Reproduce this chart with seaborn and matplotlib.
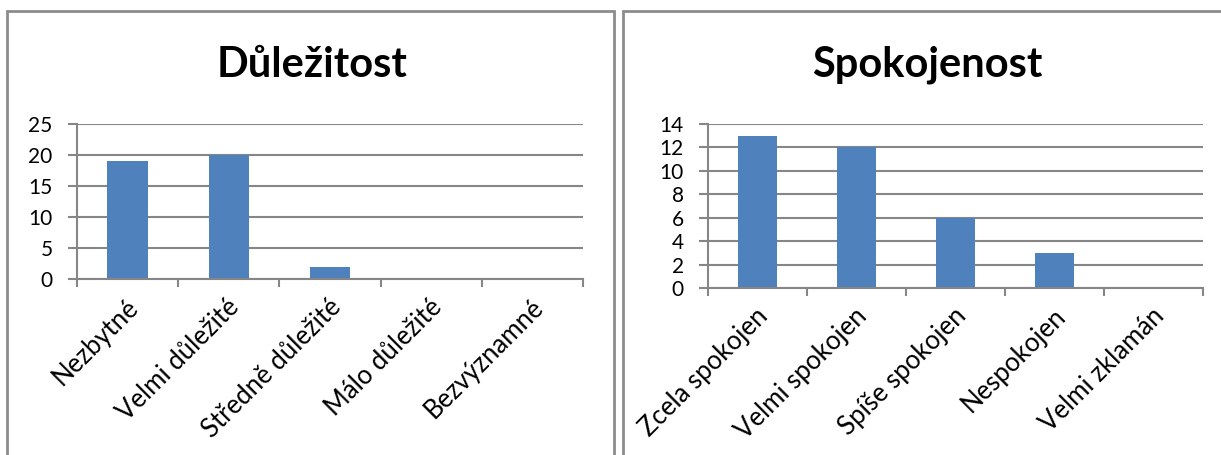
import matplotlib
matplotlib.use("Agg")
import matplotlib.pyplot as plt
import matplotlib.transforms as mtransforms
import seaborn as sns
import pandas as pd
from matplotlib.patches import Rectangle

sns.set_theme(style="white")
plt.rcParams['font.family'] = ['Lato', 'DejaVu Sans']

# Data
importance_categories = ["Nezbytné", "Velmi důležité", "Středně důležité", "Málo důležité", "Bezvýznamné"]
importance_values = [19, 20, 2, 0, 0]
satisfaction_categories = ["Zcela spokojen", "Velmi spokojen", "Spíše spokojen", "Nespokojen", "Velmi zklamán"]
satisfaction_values = [13, 12, 6, 3, 0]
importance_ticks = [0, 5, 10, 15, 20, 25]
satisfaction_ticks = [0, 2, 4, 6, 8, 10, 12, 14]

W, H = 1221, 455
fig = plt.figure(figsize=(W / 100, H / 100), dpi=100)
fig.patch.set_facecolor("white")

BAR = "#4F81BD"
GRID = "#868686"
FRAME = "#8C8C8C"

def px_rect(x0, y0, x1, y1):
    return [x0 / W, 1 - y1 / H, (x1 - x0) / W, (y1 - y0) / H]

# Panel frames
for (x0, x1) in [(7, 614), (623, 1240)]:
    r = Rectangle((x0 / W, -0.1), (x1 - x0) / W, (1 - 11 / H) + 0.1,
                  transform=fig.transFigure, fill=False, edgecolor=FRAME,
                  linewidth=2.0, clip_on=False)
    fig.add_artist(r)

def draw(ax, cats, vals, ticks, title, title_x):
    df = pd.DataFrame({"cat": cats, "val": vals})
    sns.barplot(data=df, x="cat", y="val", ax=ax, color=BAR, width=0.4,
                saturation=1, edgecolor="none", linewidth=0)
    n = len(cats)
    ax.set_xlim(-0.5, n - 0.5)
    ax.set_ylim(ticks[0], ticks[-1])
    ax.set_yticks(ticks)
    ax.set_yticklabels([str(t) for t in ticks], fontsize=15, color="black")
    ax.yaxis.grid(True, color=GRID, linewidth=1.5)
    ax.set_axisbelow(True)
    ax.set_xlabel("")
    ax.set_ylabel("")
    for s in ["top", "right"]:
        ax.spines[s].set_visible(False)
    for s in ["left", "bottom"]:
        ax.spines[s].set_color(GRID)
        ax.spines[s].set_linewidth(1.5)
    # category boundary ticks
    ax.set_xticks([i - 0.5 for i in range(n + 1)])
    ax.set_xticklabels([])
    ax.tick_params(axis="x", which="major", direction="out", length=6,
                   color=GRID, width=1.5, bottom=True)
    ax.tick_params(axis="y", which="major", direction="out", length=6.5,
                   color=GRID, width=1.5, left=True, pad=11)
    ax.set_xticks(range(n), minor=True)
    ax.set_xticklabels(cats, minor=True, rotation=45, ha="right",
                       rotation_mode="anchor", fontsize=18.5, color="black")
    ax.tick_params(axis="x", which="minor", length=0, pad=11)
    off = mtransforms.ScaledTranslation(-2 / 100, 0, fig.dpi_scale_trans)
    for lab in ax.get_xticklabels(minor=True):
        lab.set_transform(lab.get_transform() + off)
    fig.text(title_x / W, 1 - 65 / H, title, ha="center", va="center",
             fontsize=30, fontweight="bold", color="black")

ax1 = fig.add_axes(px_rect(77, 124, 583, 279))
draw(ax1, importance_categories, importance_values, importance_ticks, "Důležitost", 312)

ax2 = fig.add_axes(px_rect(708, 124, 1203, 288))
draw(ax2, satisfaction_categories, satisfaction_values, satisfaction_ticks, "Spokojenost", 927)

fig.savefig("out.png", dpi=100, facecolor="white")
